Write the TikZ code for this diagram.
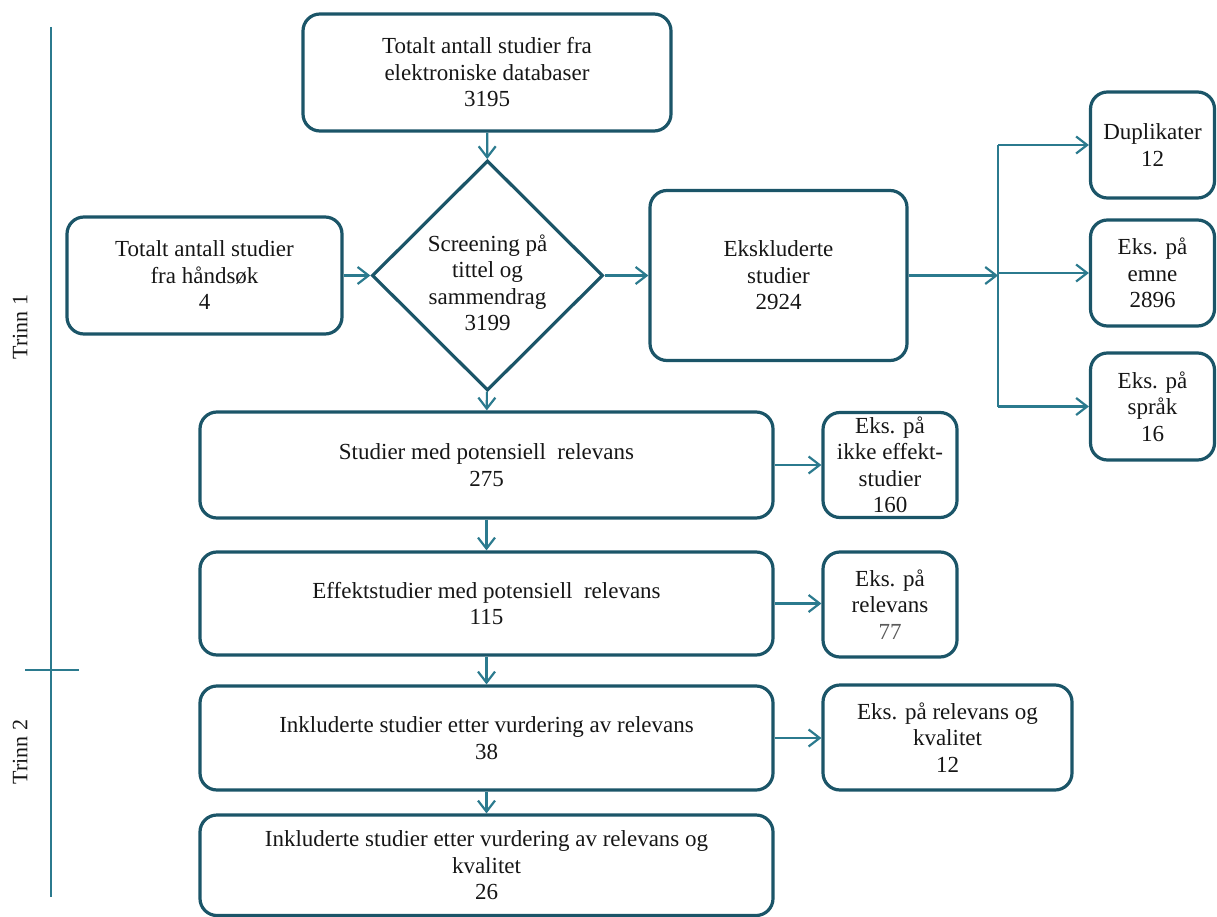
\documentclass[tikz,border=0pt]{standalone}
\usepackage{fontspec}
\setmainfont{Liberation Serif}
\usetikzlibrary{arrows.meta,shapes.geometric}
\definecolor{flowLine}{HTML}{1B5568}
\definecolor{flowArrow}{HTML}{2B7A8E}
\definecolor{flowText}{HTML}{161616}
\definecolor{flowGrey}{HTML}{5A5A5A}

\begin{document}
\begin{tikzpicture}[
  x=1pt,y=-1pt,
  box/.style={draw=flowLine, line width=3.2pt, rounded corners=17pt,
    align=center, inner sep=0pt, text=flowText,
    font=\fontsize{23}{26.5}\selectfont},
  wide/.style={box, minimum width=573pt},
  side/.style={box, minimum width=134pt, minimum height=105pt},
  screen/.style={box, diamond, rounded corners=0pt, aspect=1,
    minimum width=231pt, minimum height=230pt},
  arr/.style={-{Straight Barb[length=11pt,width=17pt,line width=2.2pt]},
    draw=flowArrow, line width=2.2pt},
  rail/.style={draw=flowArrow, line width=2.4pt},
  trinn/.style={font=\fontsize{22}{26}\selectfont, rotate=90, text=flowText}
]
\useasboundingbox (0,0) rectangle (1217,917);

% stage markers
\draw[rail] (51,27) -- (51,897);
\draw[rail] (25,670) -- (79,670);
\node[trinn] (t1) at (20,327) {Trinn 1};
\node[trinn] (t2) at (20,752) {Trinn 2};

% main flow
\node[box, minimum width=368pt, minimum height=117pt] (elek) at (487,72.5)
  {Totalt antall studier fra\\elektroniske databaser\\3195};
\node[box, minimum width=275pt, minimum height=117pt] (hand) at (204.5,275.5)
  {Totalt antall studier\\fra håndsøk\\4};
\node[screen] (scr) at (487.5,275.5)
  {\rule{0pt}{31pt}Screening på\\tittel og\\sammendrag\\3199};
\node[box, minimum width=257pt, minimum height=170pt] (eksk) at (778.5,275.5)
  {Ekskluderte\\studier\\2924};
\node[wide, minimum height=106pt] (potrel) at (486.5,465)
  {Studier med potensiell~ relevans\\275};
\node[wide, minimum height=103pt] (effrel) at (486.5,603.5)
  {Effektstudier med potensiell~ relevans\\115};
\node[wide, minimum height=104pt] (inkrel) at (486.5,738)
  {Inkluderte studier etter vurdering av relevans\\38};
\node[wide, minimum height=100.5pt] (inkkval) at (486.5,865.25)
  {Inkluderte studier etter vurdering av relevans og\\kvalitet\\26};

% exclusions
\node[box, minimum width=124pt, minimum height=106pt] (dup) at (1152.5,145)
  {Duplikater\\12};
\node[box, minimum width=124pt, minimum height=106pt] (emne) at (1152.5,273)
  {Eks. på\\emne\\2896};
\node[box, minimum width=124pt, minimum height=107pt] (sprak) at (1152.5,406.5)
  {Eks. på\\språk\\16};
\node[side] (ikke) at (890,465) {Eks. på\\ikke effekt-\\studier\\160};
\node[side] (eksrel) at (890,604.5) {Eks. på\\relevans\\\textcolor{flowGrey}{77}};
\node[box, minimum width=249pt, minimum height=105pt] (ekskval) at (947.5,737.5)
  {Eks. på relevans og\\kvalitet\\12};

\coordinate (split) at (998,275.5);

\draw[arr] (elek) -- (scr);
\draw[arr] (hand) -- (scr);
\draw[arr] (scr) -- (eksk);
\draw[arr] (eksk) -- (split);
\draw[rail] (split |- dup) -- (split |- sprak);
\foreach \n in {dup,emne,sprak} {
  \draw[arr] (split |- \n) -- (\n);
}
\draw[arr] (scr) -- (potrel);
\draw[arr] (potrel) -- (effrel);
\draw[arr] (effrel) -- (inkrel);
\draw[arr] (inkrel) -- (inkkval);
\draw[arr] (potrel) -- (ikke);
\draw[arr] (effrel.east) -- (effrel.east -| eksrel.west);
\draw[arr] (inkrel.east) -- (inkrel.east -| ekskval.west);
\end{tikzpicture}
\end{document}
